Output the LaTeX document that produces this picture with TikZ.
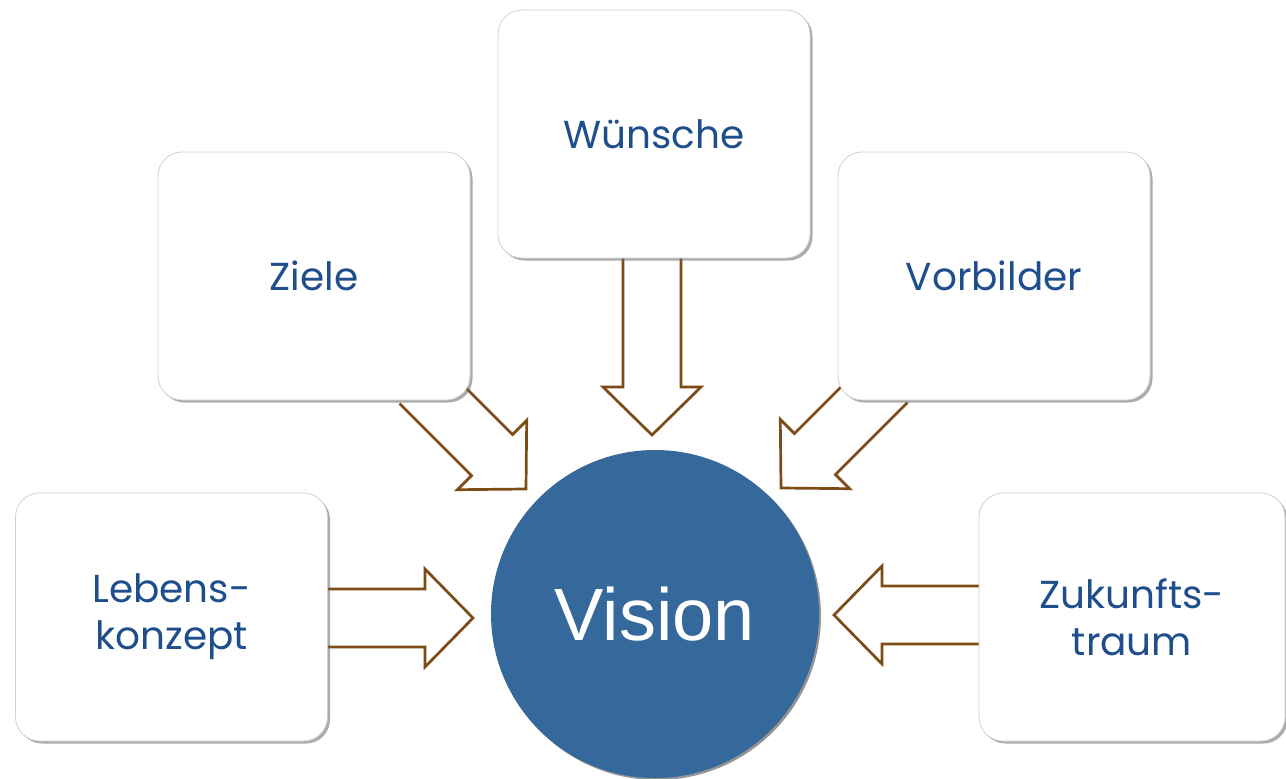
\documentclass[tikz,border=0pt]{standalone}
\usepackage{fontspec}
\setmainfont{Liberation Sans}
\newfontfamily\boxfont{Poppins}
\usetikzlibrary{calc,shadows}
\definecolor{txtblue}{RGB}{31,78,140}
\definecolor{circblue}{RGB}{54,105,155}
\definecolor{arrbrown}{RGB}{125,75,22}
\tikzset{
  boxnode/.style={draw=black!18, line width=0.8pt, fill=white, rounded corners=24pt,
    drop shadow={shadow xshift=2.5pt, shadow yshift=-2.5pt, fill=black!60, opacity=0.55},
    minimum width=312pt, minimum height=248pt, inner sep=0pt, align=center,
    font=\boxfont\fontsize{39}{47}\selectfont, text=txtblue},
  blockarrow/.style={draw=arrbrown, line width=2.7pt, fill=white, line join=miter}
}
\newcommand\blockarr[2]{%
  \coordinate (hb) at ($(#2)!48pt!(#1)$);
  \draw[blockarrow] ($(#1)!29pt!90:(#2)$) -- ($(hb)!29pt!90:(#2)$) -- ($(hb)!49pt!90:(#2)$)
    -- (#2) -- ($(hb)!49pt!-90:(#2)$) -- ($(hb)!29pt!-90:(#2)$) -- ($(#1)!29pt!-90:(#2)$);
}
\begin{document}
\begin{tikzpicture}[x=1pt,y=-1pt]
\useasboundingbox (0,0) rectangle (1286,779);
% connector end points
\coordinate (wS) at (652,240); \coordinate (wT) at (652,435);
\coordinate (zS) at (420,383); \coordinate (zT) at (526,489);
\coordinate (vS) at (887,382); \coordinate (vT) at (781,488);
\coordinate (lS) at (310,618); \coordinate (lT) at (473,618);
\coordinate (kS) at (1000,615); \coordinate (kT) at (834,615);
\blockarr{wS}{wT}
\blockarr{zS}{zT}
\blockarr{vS}{vT}
\blockarr{lS}{lT}
\blockarr{kS}{kT}
% boxes
\node[boxnode] (wuensche) at (654,134) {W\"unsche};
\node[boxnode] (ziele) at (314,276) {Ziele};
\node[boxnode] (vorbilder) at (994,276) {Vorbilder};
\node[boxnode] (lebens) at (171.5,617) {Lebens-\\konzept};
\node[boxnode, minimum width=306pt] (zukunft) at (1132,617) {Zukunfts-\\traum};
% circle
\node[circle, fill=circblue, minimum size=328pt, inner sep=0pt,
  drop shadow={shadow xshift=2pt, shadow yshift=-2pt, fill=black!70, opacity=0.6},
  text=white, font=\fontsize{74}{80}\selectfont] (vision) at (655,614) {Vision};
\end{tikzpicture}
\end{document}
